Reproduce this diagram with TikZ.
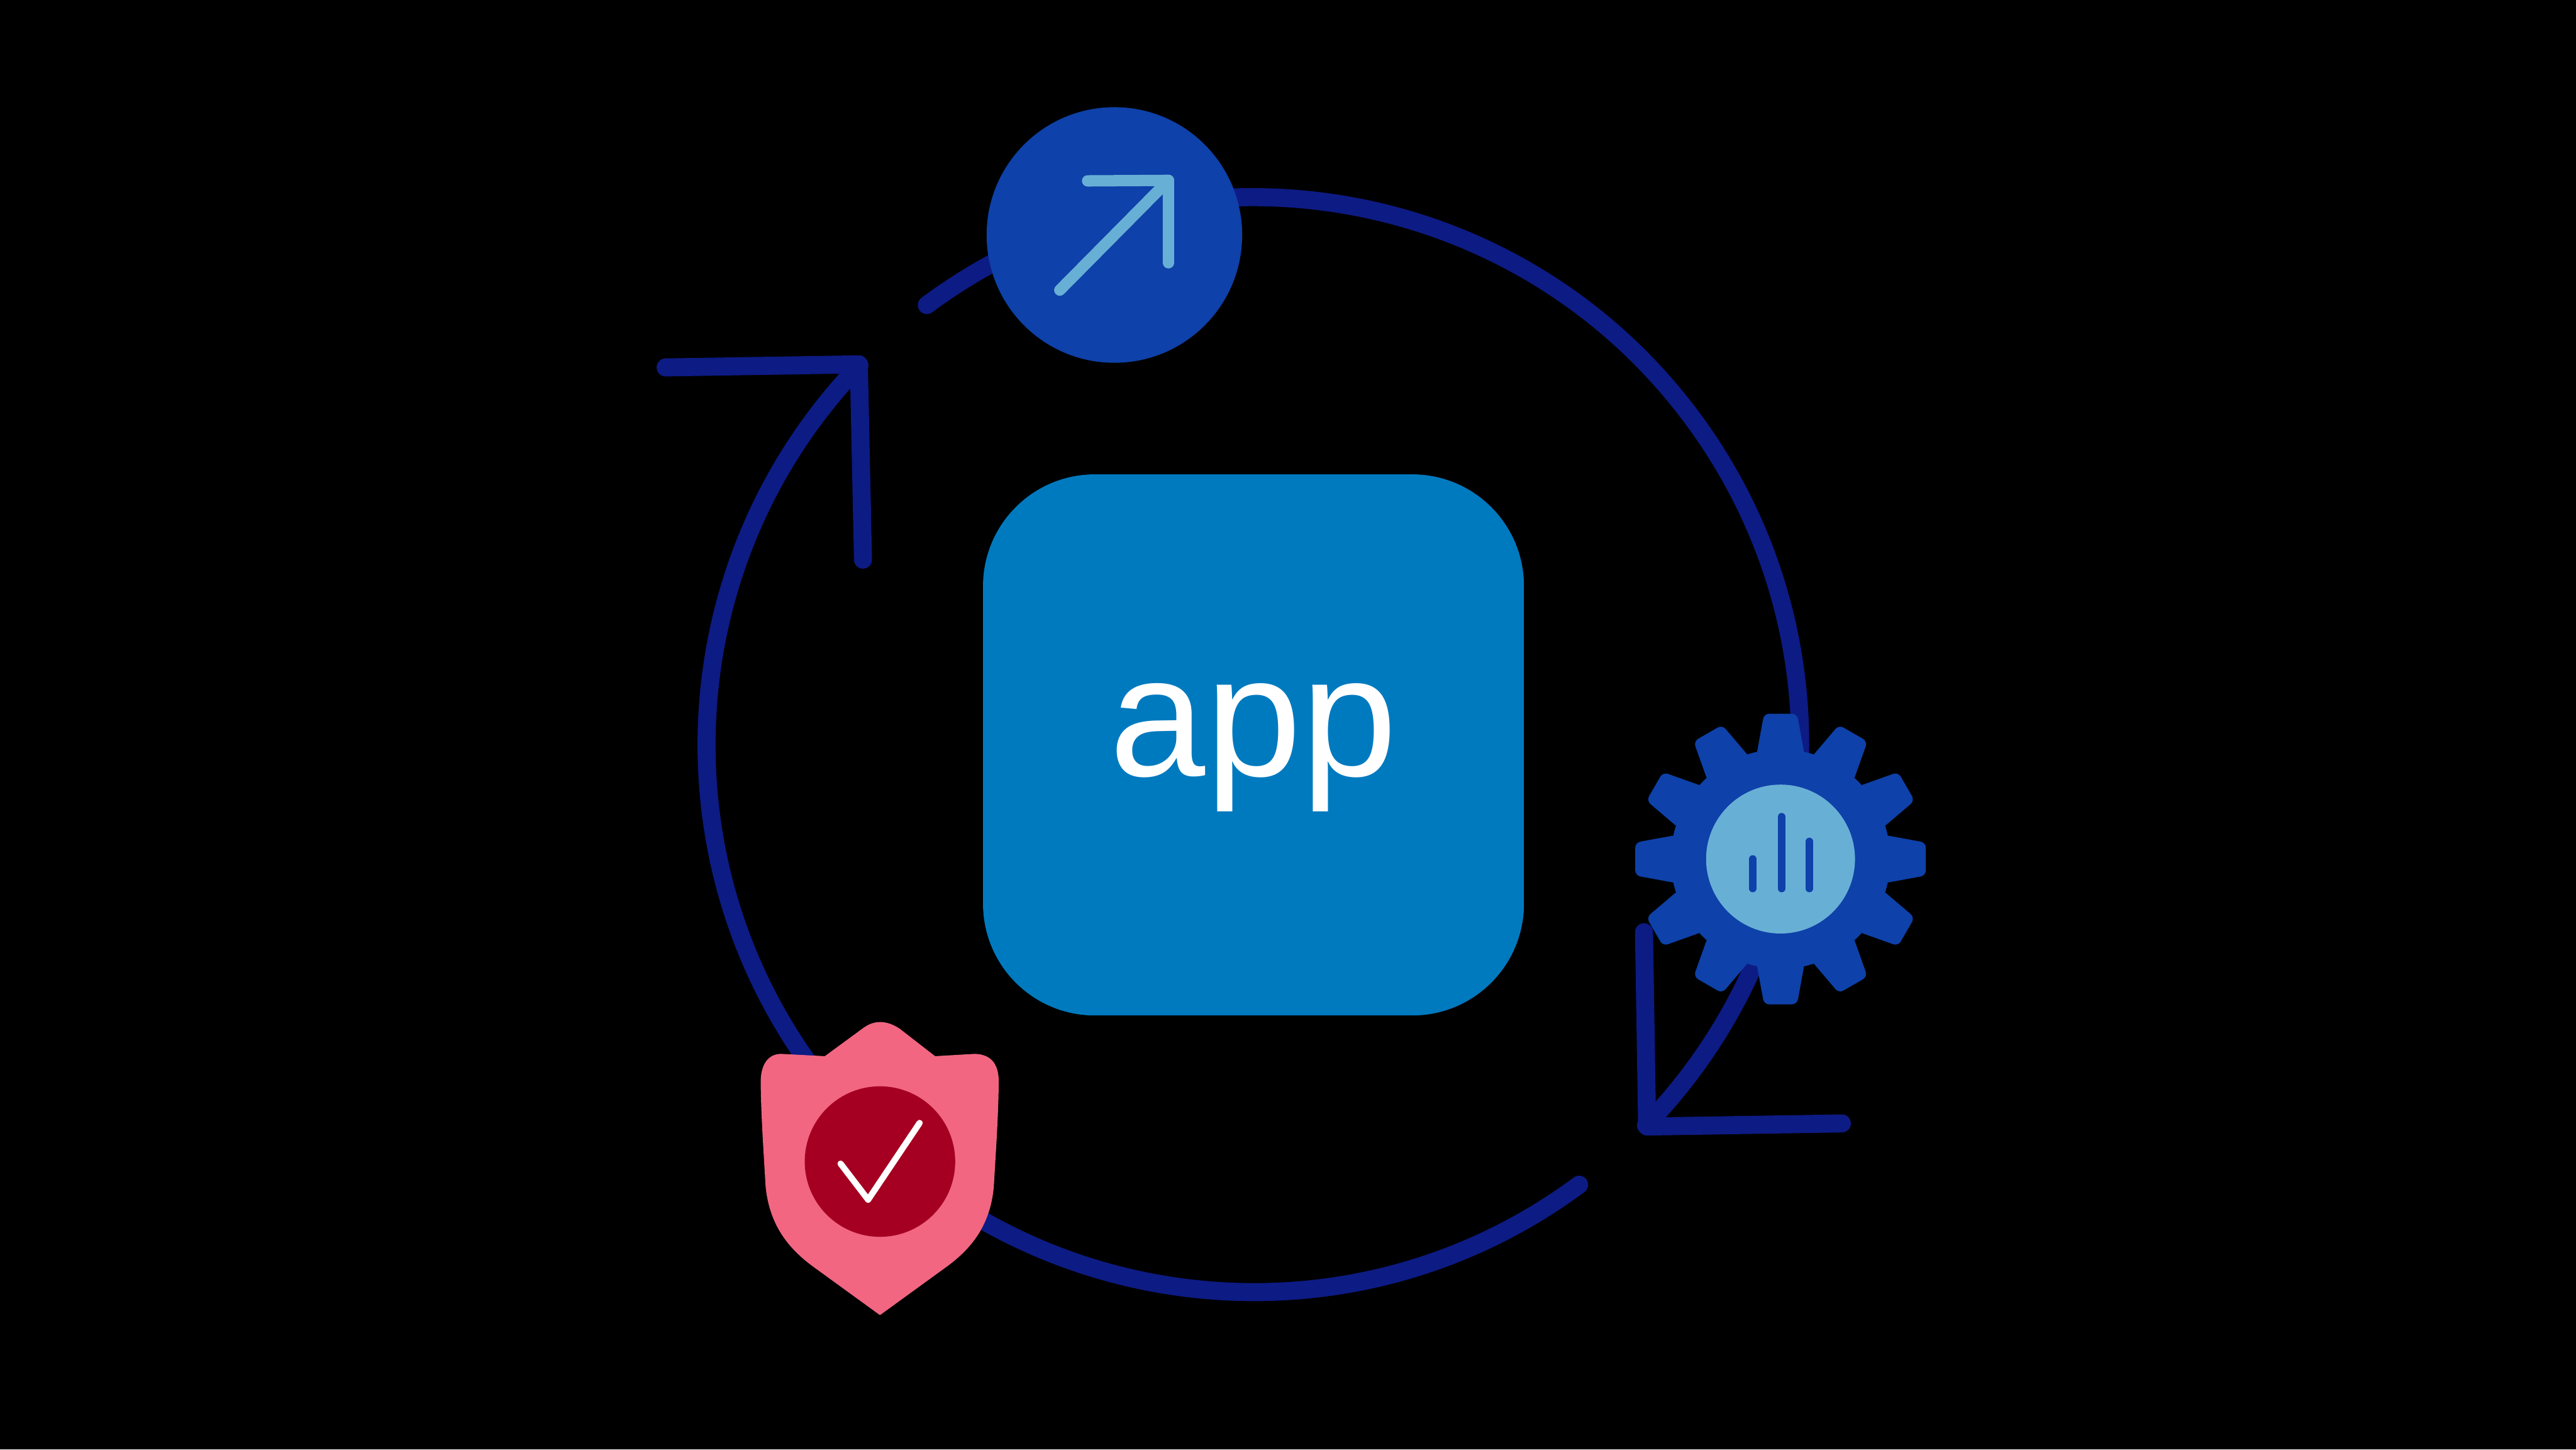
\documentclass[tikz,border=0pt]{standalone}
\usepackage{fontspec}
\setmainfont{Liberation Sans}
\definecolor{ringblue}{HTML}{0D1B84}
\definecolor{deepblue}{HTML}{0E41A9}
\definecolor{paleblue}{HTML}{68AFD6}
\definecolor{appblue}{HTML}{007ABF}
\definecolor{shieldpink}{HTML}{F26682}
\definecolor{shieldred}{HTML}{A50021}
\tikzstyle{ring}=[ringblue, line width=0.35cm, line cap=round, line join=round]
\tikzstyle{glyph}=[line cap=round, line join=round]
\tikzstyle{disc}=[circle, inner sep=0pt]

\begin{document}
\begin{tikzpicture}
          \useasboundingbox (0, 0) rectangle (50, 28.13);
          \fill[black] (0, 0) rectangle (50, 28.13);

          \coordinate (upstart) at (17.99, 22.21);
          \coordinate (upleft) at (12.92, 21);
          \coordinate (uptip) at (16.67, 21.06);
          \coordinate (updown) at (16.75, 17.27);
          \coordinate (lowstart) at (30.65, 5.14);
          \coordinate (lowup) at (31.91, 10.04);
          \coordinate (lowtip) at (31.97, 6.27);
          \coordinate (lowright) at (35.75, 6.33);

          \draw[ring] (upstart) arc[start angle=126.6, end angle=-44.1, radius=10.62];
          \draw[ring] (lowstart) arc[start angle=-53.5, end angle=-223.9, radius=10.62];
          \draw[ring] (upleft) -- (uptip) -- (updown);
          \draw[ring] (lowup) -- (lowtip) -- (lowright);

          \node[rectangle, fill=appblue, rounded corners=2.17cm, minimum size=10.5cm, inner sep=0pt, text=white, text height=1.91cm, text depth=0.7cm, font=\fontsize{95}{95}\selectfont] (appbox) at (24.33, 13.675) {app};

          \node[disc, fill=deepblue, minimum size=4.96cm] (launch) at (21.63, 23.57) {};
          \coordinate (launchcorner) at (22.68, 24.63);
          \coordinate (launchleft) at (21.11, 24.62);
          \coordinate (launchdown) at (22.68, 23.03);
          \coordinate (launchtail) at (20.57, 22.5);
          \draw[glyph, paleblue, line width=0.22cm] (launchleft) -- (launchcorner) -- (launchdown);
          \draw[glyph, paleblue, line width=0.22cm] (launchtail) -- (launchcorner);

          \node[disc, fill=deepblue, minimum size=4.26cm] (gear) at (34.56, 11.46) {};
          \foreach \tooth in {0, 30, ..., 330} {
            \fill[deepblue, shift={(gear)}, rotate=\tooth, rounded corners=0.1cm]
              (-0.47, 2)
              -- (-0.32, 2.82)
              -- (0.32, 2.82)
              -- (0.47, 2)
              -- cycle;
          }
          \node[disc, fill=paleblue, minimum size=2.89cm] (gearcore) at (gear) {};
          \foreach \barx/\bartop in {34.02/11.46, 34.58/12.28, 35.12/11.8} {
            \draw[glyph, deepblue, line width=0.15cm] (\barx, 10.89) -- (\barx, \bartop);
          }

          \fill[shieldpink]
            (17.08, 2.61)
            -- (18.32, 3.51)
            .. controls (18.8, 3.85) and (19.22, 4.3) .. (19.29, 5.11)
            .. controls (19.33, 5.8) and (19.38, 6.5) .. (19.385, 7.14)
            .. controls (19.385, 7.43) and (19.28, 7.67) .. (18.92, 7.68)
            -- (18.15, 7.635)
            -- (17.46, 8.17)
            .. controls (17.2, 8.34) and (16.96, 8.34) .. (16.74, 8.17)
            -- (16.01, 7.635)
            -- (15.15, 7.68)
            .. controls (14.88, 7.67) and (14.765, 7.43) .. (14.765, 7.14)
            .. controls (14.77, 6.5) and (14.82, 5.8) .. (14.86, 5.11)
            .. controls (14.94, 4.3) and (15.36, 3.85) .. (15.84, 3.51)
            -- cycle;
          \node[disc, fill=shieldred, minimum size=2.92cm] (shieldcore) at (17.08, 5.59) {};
          \coordinate (tickstart) at (16.315, 5.55);
          \coordinate (tickbottom) at (16.85, 4.85);
          \coordinate (tickend) at (17.85, 6.34);
          \draw[glyph, white, line width=0.12cm] (tickstart) -- (tickbottom) -- (tickend);
        \end{tikzpicture}
\end{document}
